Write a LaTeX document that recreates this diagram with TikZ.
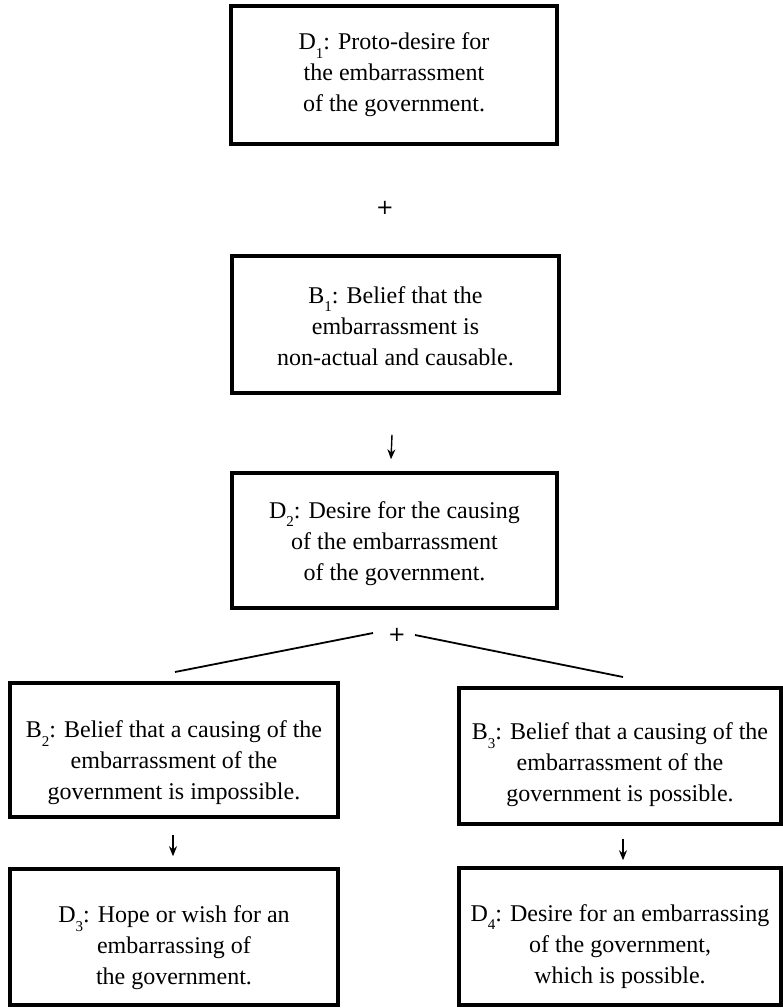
\documentclass[tikz,border=0pt]{standalone}
\usepackage{fontspec}
\setmainfont{Liberation Serif}
\newfontfamily\plusfont{DejaVu Sans}
\usetikzlibrary{arrows.meta}

% lowered subscript index for D1, B1, ...
\newcommand{\subidx}[1]{\raisebox{-0.34em}{\fontsize{15}{15}\selectfont #1}}

\begin{document}
\begin{tikzpicture}[x=1pt,y=-1pt,
  box/.style={draw, line width=3.5pt, inner sep=0pt},
  txt/.style={align=center, inner sep=0pt, font=\fontsize{24}{31}\selectfont},
  plus/.style={inner sep=0pt, font=\plusfont\fontsize{21}{21}\selectfont},
  arr/.style={line width=1.4pt, -{Stealth[length=10pt,width=8pt]}},
  branch/.style={line width=1.8pt}]
\useasboundingbox (0,0) rectangle (783,1008);

% boxes
\node[box, minimum width=326pt, minimum height=138pt] (d1) at (394,75) {};
\node[box, minimum width=327pt, minimum height=137pt] (b1) at (395.5,324.5) {};
\node[box, minimum width=325pt, minimum height=135pt] (d2) at (394.5,540.5) {};
\node[box, minimum width=328pt, minimum height=134pt] (b2) at (174,750) {};
\node[box, minimum width=322pt, minimum height=136pt] (b3) at (620,756) {};
\node[box, minimum width=328pt, minimum height=136pt] (d3) at (174,937) {};
\node[box, minimum width=322pt, minimum height=137pt] (d4) at (620,936.5) {};

% box texts
\node[txt] (d1t) at (d1.center)
  {D\subidx{1}: Proto-desire for\\the embarrassment\\of the government.};
\node[txt] (b1t) at ([yshift=-2pt]b1.center)
  {B\subidx{1}: Belief that the\\embarrassment is\\non-actual and causable.};
\node[txt] (d2t) at ([yshift=-3pt]d2.center)
  {D\subidx{2}: Desire for the causing\\of the embarrassment\\of the government.};
\node[txt] (b2t) at ([yshift=-13pt]b2.center)
  {B\subidx{2}: Belief that a causing of the\\embarrassment of the\\government is impossible.};
\node[txt] (b3t) at ([yshift=-9pt]b3.center)
  {B\subidx{3}: Belief that a causing of the\\embarrassment of the\\government is possible.};
\node[txt] (d3t) at ([yshift=-11pt]d3.center)
  {D\subidx{3}: Hope or wish for an\\embarrassing of\\the government.};
\node[txt] (d4t) at ([yshift=-10pt]d4.center)
  {D\subidx{4}: Desire for an embarrassing\\of the government,\\which is possible.};

% plus signs
\node[plus] (p1) at (385,208) {+};
\node[plus] (p2) at (397,635) {+};

% arrows between stages
\draw[arr] ([xshift=-3.5pt,yshift=-40pt]b1.south) -- ([xshift=-3.5pt,yshift=12pt]d2.north);
\draw[arr] ([xshift=-1pt,yshift=-16pt]b2.south) -- ([xshift=-1pt,yshift=11pt]d3.north);
\draw[arr] ([xshift=3pt,yshift=-13pt]b3.south) -- ([xshift=3pt,yshift=6pt]d4.north);

% branching lines from the second plus
\coordinate (bl) at (175,672);
\coordinate (br) at (623,677);
\draw[branch] ([xshift=-24pt,yshift=2pt]p2.center) -- (bl);
\draw[branch] ([xshift=18pt]p2.center) -- (br);
\end{tikzpicture}
\end{document}
